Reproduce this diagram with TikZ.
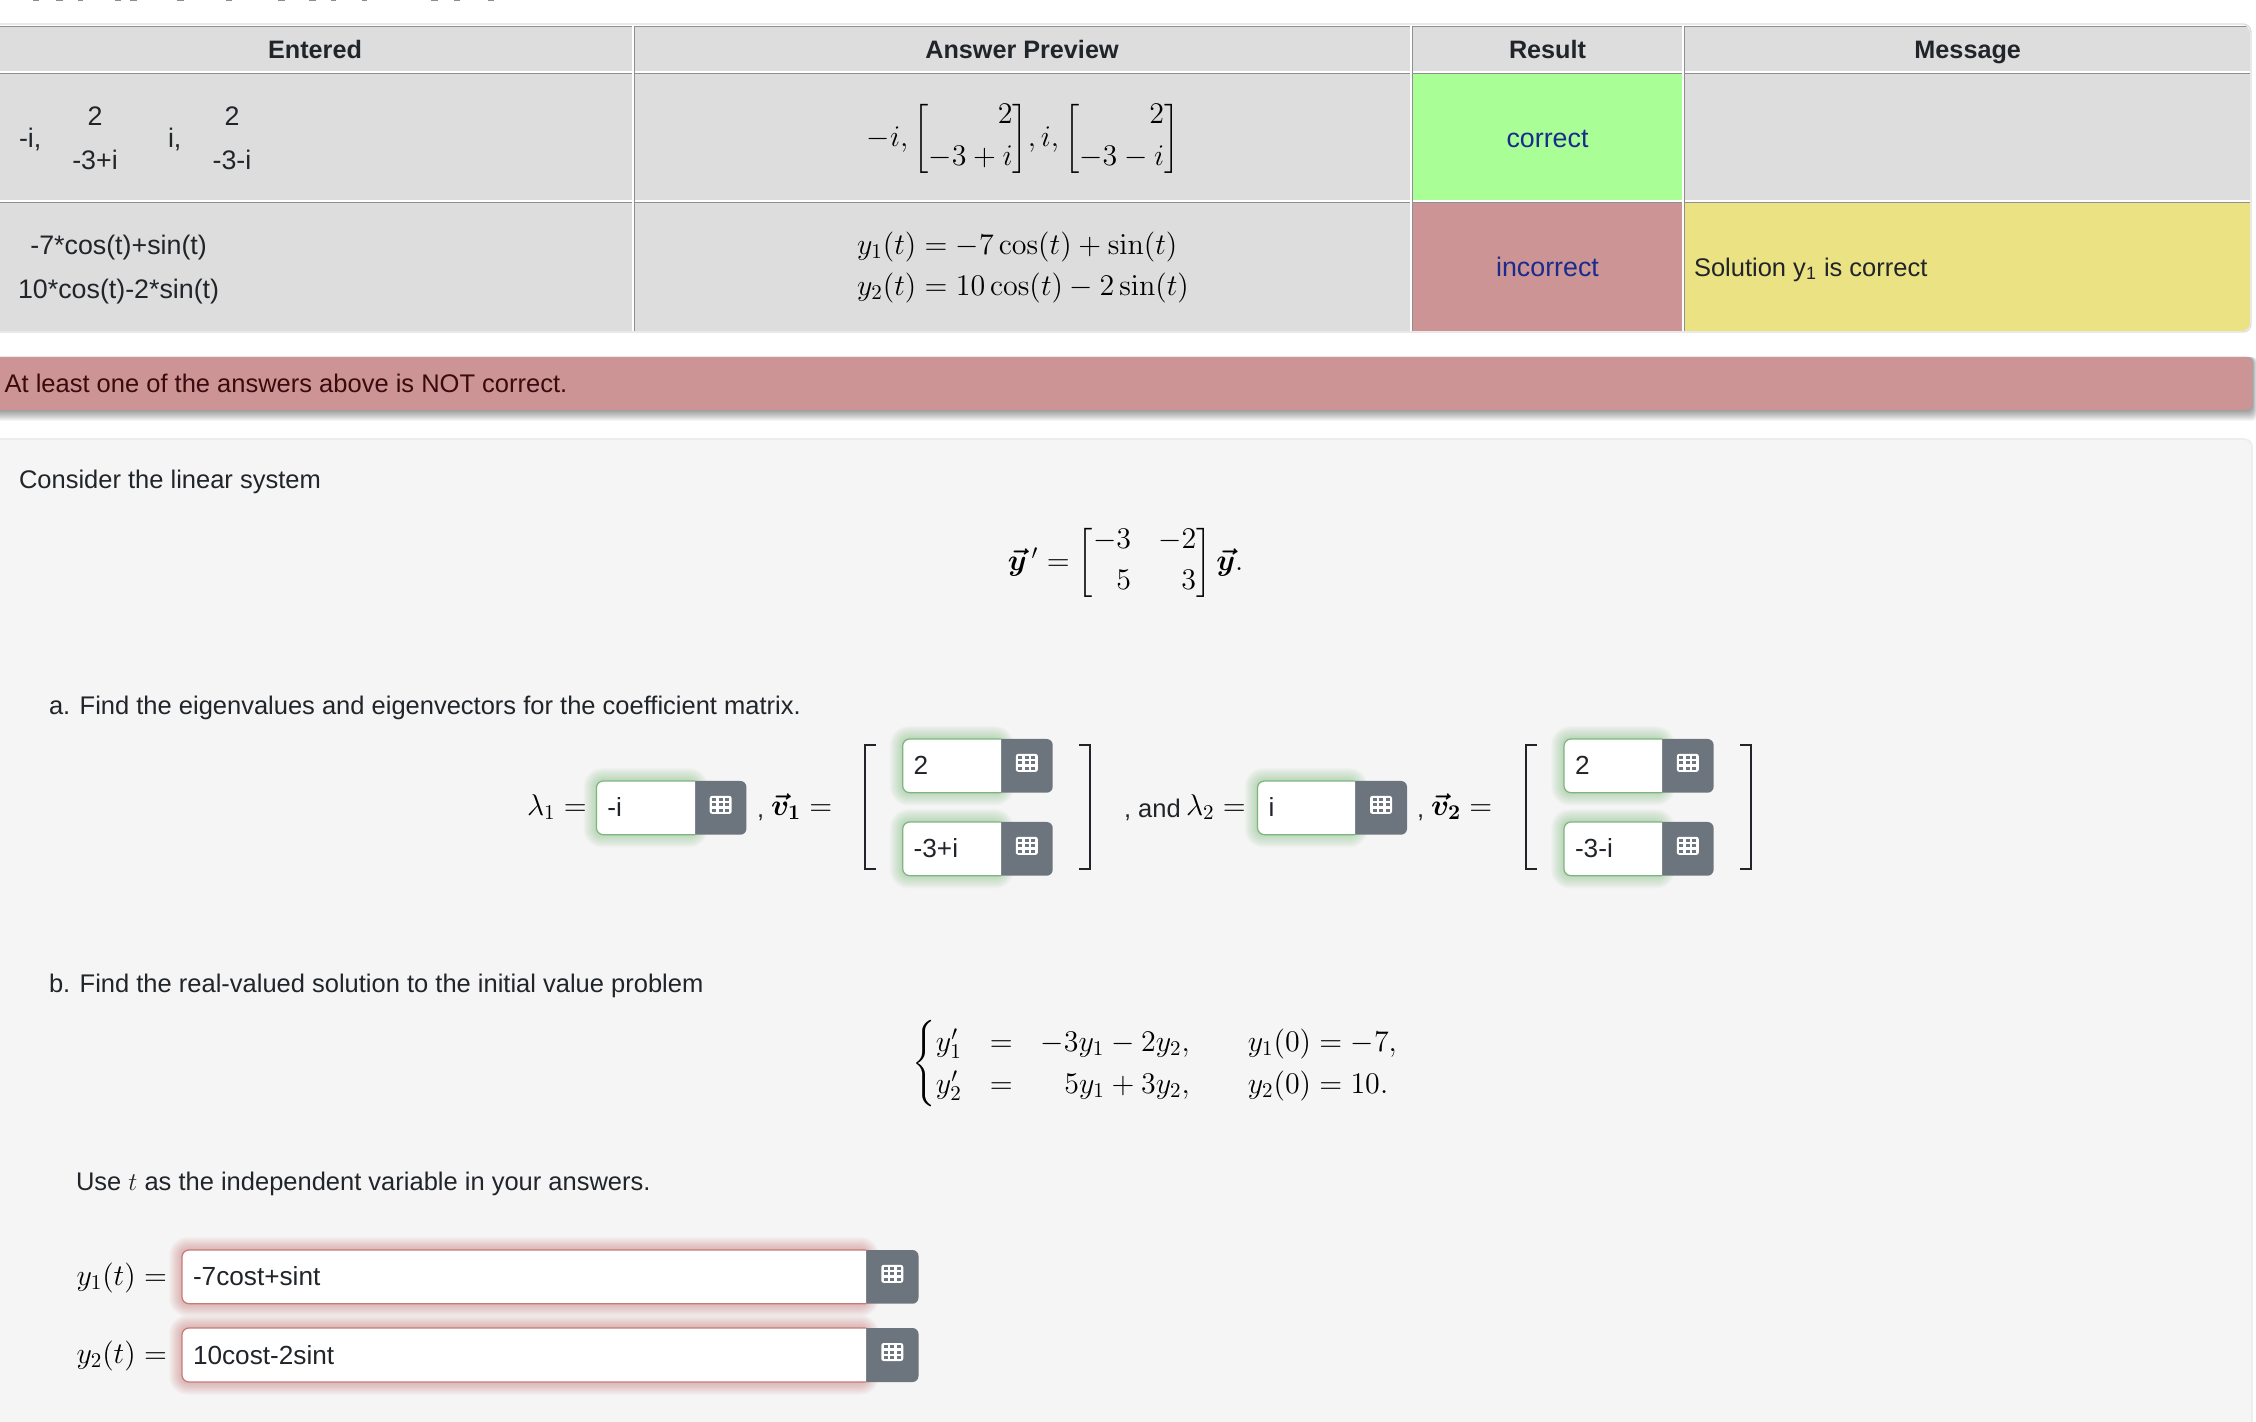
\RequirePackage{fix-cm}
\documentclass[tikz,border=0pt]{standalone}
\usepackage{amsmath}
\usepackage[no-math]{fontspec}
\setmainfont{Liberation Sans}
\definecolor{ink}{HTML}{212529}
\definecolor{cellgrey}{HTML}{DDDDDD}
\definecolor{rulegrey}{HTML}{8F8F8F}
\definecolor{okgreen}{HTML}{A9FF96}
\definecolor{badred}{HTML}{CC9494}
\definecolor{msgyellow}{HTML}{EBE283}
\definecolor{navy}{HTML}{1A2B8C}
\definecolor{maroon}{HTML}{3A0A0C}
\definecolor{panel}{HTML}{F5F5F5}
\definecolor{btn}{HTML}{6C757D}
\definecolor{glowG}{HTML}{5FAE5F}
\definecolor{glowR}{HTML}{C0504F}
\definecolor{edgeG}{HTML}{7DB57D}
\definecolor{edgeR}{HTML}{C87A78}
\tikzset{
  x=0.5pt,y=-0.5pt,
  txt/.style={inner sep=0pt,outer sep=0pt,text=ink,yshift=-1.9pt,font=\fontsize{12.75}{15}\selectfont},
  lft/.style={txt,anchor=mid west},
  ctr/.style={txt,anchor=mid},
  cell/.style={font=\fontsize{13.4}{16}\selectfont},
  inp/.style={font=\fontsize{13.1}{16}\selectfont},
  hdr/.style={ctr,font=\fontsize{12.6}{15}\selectfont\bfseries},
  mth/.style={inner sep=0pt,outer sep=0pt,text=black,yshift=-1pt,font=\fontsize{15}{21}\selectfont},
  mlft/.style={mth,anchor=mid west},
  mctr/.style={mth,anchor=mid},
  brk/.style={draw=ink,line width=1.4pt,line cap=butt},
}
\newcommand\glowrect[6]{%
  \foreach \gi in {1,...,#6}{%
    \fill[#5,opacity=0.03,rounded corners={(\gi+6)*0.5pt}] (#1-\gi,#2-\gi) rectangle (#3+\gi,#4+\gi);
  }}
% x1 xw x2 y1 y2 text glow edge name
\newcommand\ansbox[9]{%
  \glowrect{#1}{#4}{#2}{#5}{#7}{13}
  \path[fill=btn,rounded corners=3pt] (#2,#4) -- (#3,#4) -- (#3,#5) -- (#2,#5);
  \path[fill=white,draw=#8,line width=0.6pt,rounded corners=3.5pt] (#2,#4) -- (#1,#4) -- (#1,#5) -- (#2,#5);
  \node[lft,inp] (#9) at (#1+11,{(#4+#5)/2}) {#6};
  \pgfmathsetmacro\icx{(#2+#3)/2}
  \pgfmathsetmacro\icy{(#4+#5)/2-3}
  \fill[white,rounded corners=1.2pt] (\icx-11,\icy-9) rectangle (\icx+11,\icy+9);
  \foreach \dx in {-6.5,0,6.5}{\foreach \dy in {-5.3,0,5.3}{%
    \fill[btn] (\icx+\dx-2,\icy+\dy-1.5) rectangle (\icx+\dx+2,\icy+\dy+1.5);}}
}
\newcommand\lbrk[3]{\draw[brk] (#1+11,#2) -- (#1,#2) -- (#1,#3) -- (#1+11,#3);}
\newcommand\rbrk[3]{\draw[brk] (#1-11,#2) -- (#1,#2) -- (#1,#3) -- (#1-11,#3);}
\newcommand\tightmat[2]{\left[\renewcommand\arraystretch{0.7}\begin{array}{#1}#2\end{array}\right]}
\begin{document}
\begin{tikzpicture}
\useasboundingbox (0,0) rectangle (2256,1422);
\clip (0,0) rectangle (2256,1422);
\fill[white] (0,0) rectangle (2256,1422);
% clipped heading remnants
\foreach \a/\b in {33/39,56/63,78/83,115/121,130/137,177/184,226/232,278/285,309/316,331/336,362/367,431/438,454/460,488/494}{
  \fill[black!45] (\a,0) rectangle (\b,1.2);}
% table
\begin{scope}
\clip[rounded corners=4pt] (-10,25) rectangle (2250,331);
\fill[cellgrey] (-10,25) rectangle (2251,332);
\fill[okgreen] (1412,73) rectangle (1683,201);
\fill[badred] (1412,203) rectangle (1683,332);
\fill[msgyellow] (1684,203) rectangle (2251,332);
\foreach \h in {26,73,202}{
  \fill[white] (-10,\h-1.5) rectangle (2251,\h);
  \fill[rulegrey] (-10,\h) rectangle (2251,\h+1.2);}
\foreach \v in {634,1412,1684}{
  \fill[white] (\v-1.6,25) rectangle (\v,332);
  \fill[rulegrey] (\v,26) rectangle (\v+1.2,332);}
\end{scope}
\draw[black!13,line width=0.7pt,rounded corners=4pt] (-10,24) rectangle (2251,332);
\node[hdr] (h1) at (315,49.5) {Entered};
\node[hdr] (h2) at (1022,49.5) {Answer Preview};
\node[hdr] (h3) at (1547.5,49.5) {Result};
\node[hdr] (h4) at (1967.7,49.5) {Message};
\node[lft,cell] (e1) at (19,138) {-i,};
\node[ctr,cell] (e2) at (95,116) {2};
\node[ctr,cell] (e3) at (95,160) {-3+i};
\node[lft,cell] (e4) at (168,138) {i,};
\node[ctr,cell] (e5) at (232,116) {2};
\node[ctr,cell] (e6) at (232,160) {-3-i};
\node[ctr,cell] (e7) at (118.6,245) {-7*cos(t)+sin(t)};
\node[ctr,cell] (e8) at (118.6,289) {10*cos(t)-2*sin(t)};
\node[mctr] (p1) at (1023,139) {$-i,\tightmat{@{}r@{}}{2\\[6pt]-3+i}\!,i,\tightmat{@{}r@{}}{2\\[6pt]-3-i}$};
\node[mctr] (p2) at (1023,266.5) {$\begin{array}{@{}r@{}l@{}}y_1(t)&{}=-7\cos(t)+\sin(t)\\[-0.6pt]y_2(t)&{}=10\cos(t)-2\sin(t)\end{array}$};
\node[ctr,cell,text=navy] (r1) at (1547.5,138) {correct};
\node[ctr,cell,text=navy] (r2) at (1547.5,267) {incorrect};
\node[lft] (m2) at (1694,267) {Solution y\textsubscript{1} is correct};
% banner
\foreach \gi in {1,...,11}{
  \fill[black,opacity=0.04,rounded corners=3pt] (-10,357) rectangle (2252+\gi*0.5,410+\gi);}
\fill[badred,rounded corners=3pt] (-10,357) rectangle (2252,410);
\node[lft,text=maroon] (ban) at (4.6,383) {At least one of the answers above is NOT correct.};
% panel
\fill[panel,draw=black!7,line width=0.8pt,rounded corners=4pt] (-10,439) rectangle (2252,1460);
\node[lft] (t1) at (19,479) {Consider the linear system};
\node[mctr] (eq1) at (1125.6,563.5) {$\boldsymbol{\vec y}\,{}'=\tightmat{@{}r@{\hspace{13.5pt}}r@{}}{-3&-2\\[6pt]5&3}\boldsymbol{\vec y}.$};
\node[lft] (t2) at (49,705) {a. Find the eigenvalues and eigenvectors for the coefficient matrix.};
\node[mlft] (l1) at (527,808) {$\lambda_1=$};
\ansbox{596.4}{695}{746.4}{781}{834.7}{-i}{glowG}{edgeG}{a1}
\node[lft] (c1) at (757,808) {,};
\node[mlft] (v1) at (771,808) {$\boldsymbol{\vec v_1}=$};
\lbrk{865}{745}{869}
\ansbox{902.7}{1001}{1052.7}{739}{792.7}{2}{glowG}{edgeG}{a2}
\ansbox{902.7}{1001}{1052.7}{822}{875.7}{-3+i}{glowG}{edgeG}{a3}
\rbrk{1090}{745}{869}
\node[lft] (c2) at (1124,808) {, and};
\node[mlft] (l2) at (1186,808) {$\lambda_2=$};
\ansbox{1257.5}{1355}{1407}{781}{834.7}{i}{glowG}{edgeG}{a4}
\node[lft] (c3) at (1417,808) {,};
\node[mlft] (v2) at (1431,808) {$\boldsymbol{\vec v_2}=$};
\lbrk{1526}{745}{869}
\ansbox{1564}{1662}{1713.6}{739}{792.7}{2}{glowG}{edgeG}{a5}
\ansbox{1564}{1662}{1713.6}{822}{875.7}{-3-i}{glowG}{edgeG}{a6}
\rbrk{1751}{745}{869}
\node[lft] (t3) at (49,983) {b. Find the real-valued solution to the initial value problem};
\node[mctr] (sys) at (1156,1064) {$\left\{\begin{array}{@{}l@{\hspace{14pt}}c@{\hspace{14pt}}r@{\hspace{29pt}}r@{\;}c@{\;}l@{}}y_1'&=&-3y_1-2y_2,&y_1(0)&=&-7,\\y_2'&=&5y_1+3y_2,&y_2(0)&=&10.\end{array}\right.$};
\node[lft] (t4) at (76,1181) {Use $t$ as the independent variable in your answers.};
\node[mlft] (y1) at (76.5,1278) {$y_1(t)=$};
\node[mlft] (y2) at (76.5,1356) {$y_2(t)=$};
\ansbox{182}{866}{918.5}{1250}{1303.7}{-7cost+sint}{glowR}{edgeR}{b1}
\ansbox{182}{866}{918.5}{1328}{1382}{10cost-2sint}{glowR}{edgeR}{b2}
\end{tikzpicture}
\end{document}
